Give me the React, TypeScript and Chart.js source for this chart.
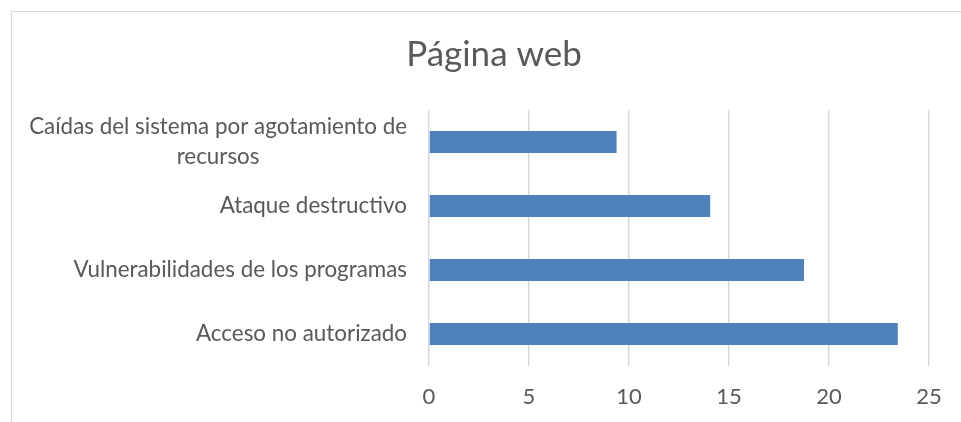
import React, { useEffect, useRef } from "react";
import { Chart, registerables } from "chart.js";

Chart.register(...registerables);

const title = "Página web";
const categories: string[][] = [
  ["Caídas del sistema por agotamiento de", "recursos"],
  ["Ataque destructivo"],
  ["Vulnerabilidades de los programas"],
  ["Acceso no autorizado"],
];
const values = [9.38, 14.06, 18.75, 23.44];
const xMin = 0;
const xMax = 25;
const xStep = 5;

const FONT = "Lato";
const TEXT = "#595959";
const GRID = "#d9d9d9";
const BAR = "#4f81bd";
const CANVAS_W = 988;

const labelPlugin = {
  id: "centeredYLabels",
  afterDraw(chart: any) {
    const ys = chart.scales.y;
    const ctx = chart.ctx;
    const size = 22.4;
    const lh = 30;
    ctx.save();
    ctx.font = `${size}px ${FONT}`;
    ctx.fillStyle = TEXT;
    ctx.textBaseline = "middle";
    ctx.textAlign = "center";
    const right = chart.chartArea.left - 22;
    ys.ticks.forEach((_t: any, i: number) => {
      const lines: string[] = categories[i];
      const yc = ys.getPixelForTick(i);
      const widest = Math.max(...lines.map((l) => ctx.measureText(l).width));
      const cx = right - widest / 2;
      const y0 = yc - ((lines.length - 1) * lh) / 2;
      lines.forEach((l, k) => ctx.fillText(l, cx, y0 + k * lh));
    });
    ctx.restore();
  },
};

export default function App() {
  const ref = useRef<HTMLCanvasElement>(null);
  useEffect(() => {
    const chart = new Chart(ref.current!, {
      type: "bar",
      data: {
        labels: categories.map((c) => c.join(" ")),
        datasets: [
          {
            data: values,
            backgroundColor: BAR,
            borderWidth: 0,
            categoryPercentage: 1,
            barPercentage: 0.344,
          },
        ],
      },
      options: {
        indexAxis: "y",
        animation: false,
        responsive: false,
        layout: { padding: 0 },
        plugins: {
          legend: { display: false },
          tooltip: { enabled: false },
          title: {
            display: true,
            text: title,
            color: TEXT,
            font: { family: FONT, size: 35, weight: "normal" },
            padding: { top: 34, bottom: 34 },
          },
        },
        scales: {
          x: {
            min: xMin,
            max: xMax,
            ticks: {
              stepSize: xStep,
              color: TEXT,
              font: { family: FONT, size: 22 },
              padding: 18,
            },
            grid: { color: GRID, lineWidth: 1.5, drawTicks: false },
            border: { display: false },
            afterFit: (s: any) => {
              s.height = 56;
            },
          },
          y: {
            ticks: { display: false },
            grid: { display: false, drawTicks: false },
            border: { display: false },
            afterFit: (s: any) => {
              s.width = 429;
            },
          },
          spacer: {
            type: "linear",
            position: "right",
            display: true,
            ticks: { display: false },
            grid: { display: false, drawTicks: false },
            border: { display: false },
            afterFit: (s: any) => {
              s.width = CANVAS_W - 929;
            },
          },
        },
      },
      plugins: [labelPlugin],
    });
    return () => chart.destroy();
  }, []);
  return (
    <div
      style={{
        position: "fixed",
        left: 0,
        top: 0,
        width: 961,
        height: 422,
        overflow: "hidden",
        background: "#fff",
      }}
    >
      <div
        style={{
          position: "absolute",
          left: 11,
          top: 11,
          width: 1000,
          height: 500,
          border: `1px solid ${GRID}`,
        }}
      />
      <canvas
        ref={ref}
        width={CANVAS_W}
        height={422}
        style={{ position: "absolute", left: 0, top: 0, width: CANVAS_W, height: 422 }}
      />
    </div>
  );
}
